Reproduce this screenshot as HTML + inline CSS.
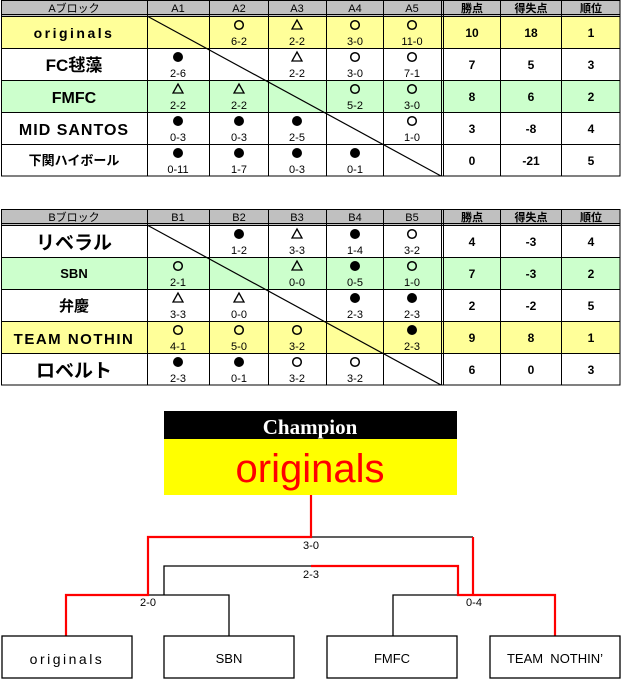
<!DOCTYPE html>
<html><head><meta charset="utf-8"><style>
html,body{margin:0;padding:0;background:#fff;}
svg{display:block;font-family:"Liberation Sans","Noto Sans CJK JP",sans-serif;}
.h{font-size:11px;text-anchor:middle;}
.n{font-size:11px;text-anchor:middle;}
.s{font-size:12px;text-anchor:middle;font-weight:bold;}
.t{text-anchor:middle;font-weight:bold;}
</style></head><body>
<svg width="622" height="679" viewBox="0 0 622 679" xmlns="http://www.w3.org/2000/svg">
<defs>
<g id="o"><circle cx="0" cy="0" r="4.3" fill="none" stroke="#000" stroke-width="1.5"/></g>
<g id="f"><circle cx="0" cy="0" r="5" fill="#000"/></g>
<g id="t"><path d="M0,-5 L5,4 L-5,4 Z" fill="none" stroke="#000" stroke-width="1.3"/></g>
</defs>

<!-- TABLE A -->
<g>
<rect x="1" y="0" width="619" height="16" fill="#c0c0c0"/>
<rect x="1" y="16" width="619" height="32" fill="#ffff99"/>
<rect x="1" y="80" width="619" height="32" fill="#ccffcc"/>
<rect x="147" y="16" width="0" height="0"/>
<g stroke="#000" fill="none">
<rect x="1.5" y="0.5" width="618.5" height="175.5" stroke-width="1"/>
<line x1="1" y1="14.5" x2="620" y2="14.5" stroke-width="1"/>
<line x1="1" y1="16.5" x2="620" y2="16.5" stroke-width="1"/>
<line x1="1" y1="48.5" x2="620" y2="48.5"/>
<line x1="1" y1="80.5" x2="620" y2="80.5"/>
<line x1="1" y1="112.5" x2="620" y2="112.5"/>
<line x1="1" y1="144.5" x2="620" y2="144.5"/>
<line x1="147.5" y1="0" x2="147.5" y2="176"/>
<line x1="209.5" y1="0" x2="209.5" y2="176"/>
<line x1="268.5" y1="0" x2="268.5" y2="176"/>
<line x1="326.5" y1="0" x2="326.5" y2="176"/>
<line x1="383.5" y1="0" x2="383.5" y2="176"/>
<line x1="441.5" y1="0" x2="441.5" y2="176"/>
<line x1="443.5" y1="0" x2="443.5" y2="176"/>
<line x1="500.5" y1="0" x2="500.5" y2="176"/>
<line x1="561.5" y1="0" x2="561.5" y2="176"/>
<line x1="147" y1="16" x2="441" y2="176" stroke-width="1.2"/>
</g>
<text class="h" x="74" y="12">Aブロック</text>
<text class="h" x="178" y="12">A1</text><text class="h" x="239" y="12">A2</text><text class="h" x="297" y="12">A3</text><text class="h" x="355" y="12">A4</text><text class="h" x="412" y="12">A5</text>
<text class="h" x="472" y="12" font-weight="bold">勝点</text><text class="h" x="531" y="12" font-weight="bold">得失点</text><text class="h" x="591" y="12" font-weight="bold">順位</text>

<g transform="translate(0,16)">
<text class="t" x="74" y="22" font-size="14" letter-spacing="2.5">originals</text>
<use href="#o" x="239" y="9"/><text class="n" x="239" y="29">6-2</text>
<use href="#t" x="297" y="9"/><text class="n" x="297" y="29">2-2</text>
<use href="#o" x="355" y="9"/><text class="n" x="355" y="29">3-0</text>
<use href="#o" x="412" y="9"/><text class="n" x="412" y="29">11-0</text>
<text class="s" x="472" y="21">10</text><text class="s" x="531" y="21">18</text><text class="s" x="591" y="21">1</text>
</g>
<g transform="translate(0,48)">
<text class="t" x="74" y="23" font-size="17">FC毬藻</text>
<use href="#f" x="178" y="9"/><text class="n" x="178" y="29">2-6</text>
<use href="#t" x="297" y="9"/><text class="n" x="297" y="29">2-2</text>
<use href="#o" x="355" y="9"/><text class="n" x="355" y="29">3-0</text>
<use href="#o" x="412" y="9"/><text class="n" x="412" y="29">7-1</text>
<text class="s" x="472" y="21">7</text><text class="s" x="531" y="21">5</text><text class="s" x="591" y="21">3</text>
</g>
<g transform="translate(0,80)">
<text class="t" x="74" y="23" font-size="16">FMFC</text>
<use href="#t" x="178" y="9"/><text class="n" x="178" y="29">2-2</text>
<use href="#t" x="239" y="9"/><text class="n" x="239" y="29">2-2</text>
<use href="#o" x="355" y="9"/><text class="n" x="355" y="29">5-2</text>
<use href="#o" x="412" y="9"/><text class="n" x="412" y="29">3-0</text>
<text class="s" x="472" y="21">8</text><text class="s" x="531" y="21">6</text><text class="s" x="591" y="21">2</text>
</g>
<g transform="translate(0,112)">
<text class="t" x="74" y="23" font-size="16" letter-spacing="1">MID SANTOS</text>
<use href="#f" x="178" y="9"/><text class="n" x="178" y="29">0-3</text>
<use href="#f" x="239" y="9"/><text class="n" x="239" y="29">0-3</text>
<use href="#f" x="297" y="9"/><text class="n" x="297" y="29">2-5</text>
<use href="#o" x="412" y="9"/><text class="n" x="412" y="29">1-0</text>
<text class="s" x="472" y="21">3</text><text class="s" x="531" y="21">-8</text><text class="s" x="591" y="21">4</text>
</g>
<g transform="translate(0,144)">
<text class="t" x="74" y="21" font-size="13" font-weight="normal">下関ハイボール</text>
<use href="#f" x="178" y="9"/><text class="n" x="178" y="29">0-11</text>
<use href="#f" x="239" y="9"/><text class="n" x="239" y="29">1-7</text>
<use href="#f" x="297" y="9"/><text class="n" x="297" y="29">0-3</text>
<use href="#f" x="355" y="9"/><text class="n" x="355" y="29">0-1</text>
<text class="s" x="472" y="21">0</text><text class="s" x="531" y="21">-21</text><text class="s" x="591" y="21">5</text>
</g>
</g>

<!-- TABLE B -->
<g transform="translate(0,209)">
<rect x="1" y="0" width="619" height="16" fill="#c0c0c0"/>
<rect x="1" y="48" width="619" height="32" fill="#ccffcc"/>
<rect x="1" y="112" width="619" height="32" fill="#ffff99"/>
<g stroke="#000" fill="none">
<rect x="1.5" y="0.5" width="618.5" height="175.5"/>
<line x1="1" y1="14.5" x2="620" y2="14.5"/>
<line x1="1" y1="16.5" x2="620" y2="16.5"/>
<line x1="1" y1="48.5" x2="620" y2="48.5"/>
<line x1="1" y1="80.5" x2="620" y2="80.5"/>
<line x1="1" y1="112.5" x2="620" y2="112.5"/>
<line x1="1" y1="144.5" x2="620" y2="144.5"/>
<line x1="147.5" y1="0" x2="147.5" y2="176"/>
<line x1="209.5" y1="0" x2="209.5" y2="176"/>
<line x1="268.5" y1="0" x2="268.5" y2="176"/>
<line x1="326.5" y1="0" x2="326.5" y2="176"/>
<line x1="383.5" y1="0" x2="383.5" y2="176"/>
<line x1="441.5" y1="0" x2="441.5" y2="176"/>
<line x1="443.5" y1="0" x2="443.5" y2="176"/>
<line x1="500.5" y1="0" x2="500.5" y2="176"/>
<line x1="561.5" y1="0" x2="561.5" y2="176"/>
<line x1="147" y1="16" x2="441" y2="176" stroke-width="1.2"/>
</g>
<text class="h" x="74" y="12">Bブロック</text>
<text class="h" x="178" y="12">B1</text><text class="h" x="239" y="12">B2</text><text class="h" x="297" y="12">B3</text><text class="h" x="355" y="12">B4</text><text class="h" x="412" y="12">B5</text>
<text class="h" x="472" y="12" font-weight="bold">勝点</text><text class="h" x="531" y="12" font-weight="bold">得失点</text><text class="h" x="591" y="12" font-weight="bold">順位</text>

<g transform="translate(0,16)">
<text class="t" x="74" y="24" font-size="19">リベラル</text>
<use href="#f" x="239" y="9"/><text class="n" x="239" y="29">1-2</text>
<use href="#t" x="297" y="9"/><text class="n" x="297" y="29">3-3</text>
<use href="#f" x="355" y="9"/><text class="n" x="355" y="29">1-4</text>
<use href="#o" x="412" y="9"/><text class="n" x="412" y="29">3-2</text>
<text class="s" x="472" y="21">4</text><text class="s" x="531" y="21">-3</text><text class="s" x="591" y="21">4</text>
</g>
<g transform="translate(0,48)">
<text class="t" x="74" y="21" font-size="13">SBN</text>
<use href="#o" x="178" y="9"/><text class="n" x="178" y="29">2-1</text>
<use href="#t" x="297" y="9"/><text class="n" x="297" y="29">0-0</text>
<use href="#f" x="355" y="9"/><text class="n" x="355" y="29">0-5</text>
<use href="#o" x="412" y="9"/><text class="n" x="412" y="29">1-0</text>
<text class="s" x="472" y="21">7</text><text class="s" x="531" y="21">-3</text><text class="s" x="591" y="21">2</text>
</g>
<g transform="translate(0,80)">
<text class="t" x="74" y="22" font-size="15">弁慶</text>
<use href="#t" x="178" y="9"/><text class="n" x="178" y="29">3-3</text>
<use href="#t" x="239" y="9"/><text class="n" x="239" y="29">0-0</text>
<use href="#f" x="355" y="9"/><text class="n" x="355" y="29">2-3</text>
<use href="#f" x="412" y="9"/><text class="n" x="412" y="29">2-3</text>
<text class="s" x="472" y="21">2</text><text class="s" x="531" y="21">-2</text><text class="s" x="591" y="21">5</text>
</g>
<g transform="translate(0,112)">
<text class="t" x="74" y="23" font-size="15" letter-spacing="1.5">TEAM  NOTHIN</text>
<use href="#o" x="178" y="9"/><text class="n" x="178" y="29">4-1</text>
<use href="#o" x="239" y="9"/><text class="n" x="239" y="29">5-0</text>
<use href="#o" x="297" y="9"/><text class="n" x="297" y="29">3-2</text>
<use href="#f" x="412" y="9"/><text class="n" x="412" y="29">2-3</text>
<text class="s" x="472" y="21">9</text><text class="s" x="531" y="21">8</text><text class="s" x="591" y="21">1</text>
</g>
<g transform="translate(0,144)">
<text class="t" x="74" y="24" font-size="19">ロベルト</text>
<use href="#f" x="178" y="9"/><text class="n" x="178" y="29">2-3</text>
<use href="#f" x="239" y="9"/><text class="n" x="239" y="29">0-1</text>
<use href="#o" x="297" y="9"/><text class="n" x="297" y="29">3-2</text>
<use href="#o" x="355" y="9"/><text class="n" x="355" y="29">3-2</text>
<text class="s" x="472" y="21">6</text><text class="s" x="531" y="21">0</text><text class="s" x="591" y="21">3</text>
</g>
</g>

<!-- CHAMPION -->
<rect x="164" y="411" width="293" height="28" fill="#000"/>
<text x="310" y="434" text-anchor="middle" fill="#fff" font-family="Liberation Serif, serif" font-weight="bold" font-size="21">Champion</text>
<rect x="164" y="439" width="293" height="56" fill="#ffff00"/>
<text x="310" y="482" text-anchor="middle" fill="#ff0000" font-size="40">originals</text>

<!-- BRACKET black -->
<g stroke="#000" stroke-width="1.3" fill="none">
<polyline points="311,537 473,537"/>
<polyline points="164,595 164,566 311,566"/>
<polyline points="148,595 229,595 229,636"/>
<polyline points="393,636 393,595 458,595"/>
</g>
<g stroke="#ff0000" stroke-width="2.2" fill="none">
<polyline points="311,495 311,537 148,537 148,595 66,595 66,636"/>
<polyline points="311,566 458,566 458,595 555,595 555,636"/>
<polyline points="473,537 473,595"/>
</g>
<g class="n" font-size="11">
<text class="n" x="311" y="549">3-0</text>
<text class="n" x="311" y="578">2-3</text>
<text class="n" x="148" y="606">2-0</text>
<text class="n" x="474" y="606">0-4</text>
</g>
<g stroke="#000" stroke-width="1.3" fill="#fff">
<rect x="2" y="636" width="130" height="42"/>
<rect x="164" y="636" width="130" height="42"/>
<rect x="327" y="636" width="130" height="42"/>
<rect x="490" y="636" width="130" height="42"/>
</g>
<text x="67" y="664" text-anchor="middle" font-size="14" letter-spacing="2.5">originals</text>
<text x="229" y="663" text-anchor="middle" font-size="13">SBN</text>
<text x="392" y="663" text-anchor="middle" font-size="13">FMFC</text>
<text x="555" y="663" text-anchor="middle" font-size="13" xml:space="preserve">TEAM  NOTHIN’</text>
</svg>
</body></html>
